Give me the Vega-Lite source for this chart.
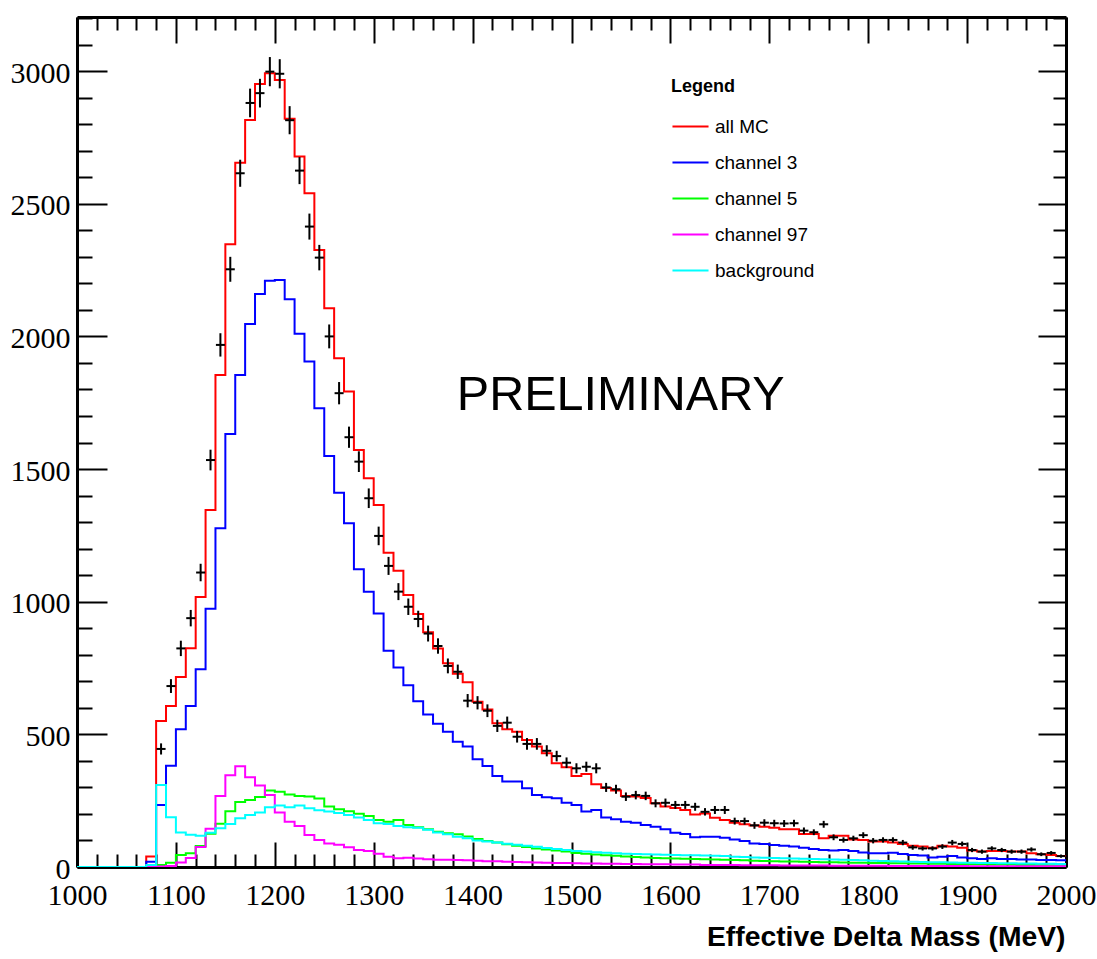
{
  "$schema": "https://vega.github.io/schema/vega-lite/v6.json",
  "width": 989,
  "height": 850,
  "autosize": {"type": "none"},
  "padding": {"left": 77, "top": 17, "right": 31, "bottom": 92},
  "background": "white",
  "config": {
    "view": {"stroke": null},
    "axis": {"grid": false, "domainColor": "black", "tickColor": "black", "labelColor": "black", "tickWidth": 2, "domainWidth": 3, "titleColor": "black"}
  },
  "datasets": {
    "mc": [
      {"m":1000,"all MC":0,"channel 3":0,"channel 5":0,"channel 97":0,"background":0},
      {"m":1010,"all MC":0,"channel 3":0,"channel 5":0,"channel 97":0,"background":0},
      {"m":1020,"all MC":0,"channel 3":0,"channel 5":0,"channel 97":0,"background":0},
      {"m":1030,"all MC":0,"channel 3":0,"channel 5":0,"channel 97":0,"background":0},
      {"m":1040,"all MC":0,"channel 3":0,"channel 5":0,"channel 97":0,"background":0},
      {"m":1050,"all MC":0,"channel 3":0,"channel 5":0,"channel 97":0,"background":0},
      {"m":1060,"all MC":0,"channel 3":0,"channel 5":0,"channel 97":0,"background":0},
      {"m":1070,"all MC":40,"channel 3":20,"channel 5":2,"channel 97":0,"background":8},
      {"m":1080,"all MC":550,"channel 3":234,"channel 5":8,"channel 97":2,"background":309},
      {"m":1090,"all MC":607,"channel 3":382,"channel 5":16,"channel 97":4,"background":188},
      {"m":1100,"all MC":716,"channel 3":519,"channel 5":45,"channel 97":17,"background":130},
      {"m":1110,"all MC":825,"channel 3":607,"channel 5":52,"channel 97":34,"background":122},
      {"m":1120,"all MC":1018,"channel 3":745,"channel 5":79,"channel 97":75,"background":118},
      {"m":1130,"all MC":1346,"channel 3":973,"channel 5":125,"channel 97":144,"background":129},
      {"m":1140,"all MC":1855,"channel 3":1277,"channel 5":163,"channel 97":268,"background":146},
      {"m":1150,"all MC":2347,"channel 3":1632,"channel 5":210,"channel 97":346,"background":162},
      {"m":1160,"all MC":2655,"channel 3":1855,"channel 5":245,"channel 97":380,"background":184},
      {"m":1170,"all MC":2816,"channel 3":2047,"channel 5":253,"channel 97":338,"background":196},
      {"m":1180,"all MC":2951,"channel 3":2160,"channel 5":264,"channel 97":307,"background":205},
      {"m":1190,"all MC":2992,"channel 3":2210,"channel 5":288,"channel 97":271,"background":225},
      {"m":1200,"all MC":2967,"channel 3":2213,"channel 5":284,"channel 97":205,"background":232},
      {"m":1210,"all MC":2820,"channel 3":2140,"channel 5":273,"channel 97":171,"background":225},
      {"m":1220,"all MC":2678,"channel 3":2010,"channel 5":268,"channel 97":155,"background":232},
      {"m":1230,"all MC":2540,"channel 3":1905,"channel 5":266,"channel 97":121,"background":221},
      {"m":1240,"all MC":2326,"channel 3":1729,"channel 5":258,"channel 97":102,"background":214},
      {"m":1250,"all MC":2106,"channel 3":1549,"channel 5":228,"channel 97":89,"background":209},
      {"m":1260,"all MC":1918,"channel 3":1411,"channel 5":218,"channel 97":84,"background":204},
      {"m":1270,"all MC":1792,"channel 3":1296,"channel 5":210,"channel 97":74,"background":196},
      {"m":1280,"all MC":1572,"channel 3":1122,"channel 5":201,"channel 97":64,"background":187},
      {"m":1290,"all MC":1465,"channel 3":1038,"channel 5":192,"channel 97":60,"background":177},
      {"m":1300,"all MC":1365,"channel 3":956,"channel 5":177,"channel 97":50,"background":165},
      {"m":1310,"all MC":1185,"channel 3":815,"channel 5":171,"channel 97":39,"background":162},
      {"m":1320,"all MC":1117,"channel 3":752,"channel 5":177,"channel 97":33,"background":155},
      {"m":1330,"all MC":1025,"channel 3":685,"channel 5":158,"channel 97":35,"background":150},
      {"m":1340,"all MC":954,"channel 3":625,"channel 5":150,"channel 97":32,"background":148},
      {"m":1350,"all MC":885,"channel 3":575,"channel 5":142,"channel 97":29,"background":140},
      {"m":1360,"all MC":824,"channel 3":540,"channel 5":133,"channel 97":27,"background":130},
      {"m":1370,"all MC":768,"channel 3":510,"channel 5":127,"channel 97":27,"background":123},
      {"m":1380,"all MC":728,"channel 3":472,"channel 5":123,"channel 97":26,"background":114},
      {"m":1390,"all MC":696,"channel 3":454,"channel 5":115,"channel 97":25,"background":108},
      {"m":1400,"all MC":623,"channel 3":406,"channel 5":106,"channel 97":24,"background":100},
      {"m":1410,"all MC":594,"channel 3":381,"channel 5":98,"channel 97":22,"background":96},
      {"m":1420,"all MC":542,"channel 3":343,"channel 5":92,"channel 97":22,"background":92},
      {"m":1430,"all MC":519,"channel 3":322,"channel 5":86,"channel 97":20,"background":88},
      {"m":1440,"all MC":510,"channel 3":322,"channel 5":80,"channel 97":19,"background":84},
      {"m":1450,"all MC":479,"channel 3":297,"channel 5":75,"channel 97":18,"background":80},
      {"m":1460,"all MC":454,"channel 3":271,"channel 5":70,"channel 97":17,"background":76},
      {"m":1470,"all MC":429,"channel 3":263,"channel 5":66,"channel 97":16,"background":72},
      {"m":1480,"all MC":391,"channel 3":259,"channel 5":62,"channel 97":15,"background":68},
      {"m":1490,"all MC":376,"channel 3":242,"channel 5":58,"channel 97":15,"background":64},
      {"m":1500,"all MC":343,"channel 3":234,"channel 5":53,"channel 97":14,"background":60},
      {"m":1510,"all MC":351,"channel 3":209,"channel 5":50,"channel 97":13,"background":58},
      {"m":1520,"all MC":312,"channel 3":215,"channel 5":47,"channel 97":13,"background":56},
      {"m":1530,"all MC":298,"channel 3":187,"channel 5":44,"channel 97":12,"background":54},
      {"m":1540,"all MC":288,"channel 3":180,"channel 5":42,"channel 97":12,"background":52},
      {"m":1550,"all MC":268,"channel 3":171,"channel 5":40,"channel 97":11,"background":50},
      {"m":1560,"all MC":266,"channel 3":167,"channel 5":38,"channel 97":11,"background":49},
      {"m":1570,"all MC":260,"channel 3":158,"channel 5":36,"channel 97":10,"background":48},
      {"m":1580,"all MC":240,"channel 3":152,"channel 5":34,"channel 97":10,"background":47},
      {"m":1590,"all MC":228,"channel 3":142,"channel 5":33,"channel 97":10,"background":46},
      {"m":1600,"all MC":222,"channel 3":129,"channel 5":32,"channel 97":9,"background":45},
      {"m":1610,"all MC":215,"channel 3":124,"channel 5":31,"channel 97":9,"background":44},
      {"m":1620,"all MC":198,"channel 3":112,"channel 5":30,"channel 97":9,"background":44},
      {"m":1630,"all MC":202,"channel 3":114,"channel 5":29,"channel 97":8,"background":43},
      {"m":1640,"all MC":186,"channel 3":114,"channel 5":28,"channel 97":8,"background":42},
      {"m":1650,"all MC":177,"channel 3":110,"channel 5":27,"channel 97":8,"background":41},
      {"m":1660,"all MC":167,"channel 3":104,"channel 5":26,"channel 97":8,"background":39},
      {"m":1670,"all MC":161,"channel 3":98,"channel 5":25,"channel 97":7,"background":38},
      {"m":1680,"all MC":156,"channel 3":89,"channel 5":24,"channel 97":7,"background":36},
      {"m":1690,"all MC":152,"channel 3":87,"channel 5":23,"channel 97":7,"background":35},
      {"m":1700,"all MC":148,"channel 3":83,"channel 5":22,"channel 97":7,"background":34},
      {"m":1710,"all MC":142,"channel 3":80,"channel 5":21,"channel 97":6,"background":33},
      {"m":1720,"all MC":142,"channel 3":77,"channel 5":21,"channel 97":6,"background":32},
      {"m":1730,"all MC":124,"channel 3":73,"channel 5":20,"channel 97":6,"background":31},
      {"m":1740,"all MC":124,"channel 3":68,"channel 5":19,"channel 97":6,"background":30},
      {"m":1750,"all MC":108,"channel 3":64,"channel 5":18,"channel 97":6,"background":29},
      {"m":1760,"all MC":118,"channel 3":62,"channel 5":18,"channel 97":5,"background":28},
      {"m":1770,"all MC":118,"channel 3":64,"channel 5":17,"channel 97":5,"background":27},
      {"m":1780,"all MC":104,"channel 3":60,"channel 5":16,"channel 97":5,"background":26},
      {"m":1790,"all MC":102,"channel 3":55,"channel 5":16,"channel 97":5,"background":25},
      {"m":1800,"all MC":96,"channel 3":52,"channel 5":15,"channel 97":5,"background":24},
      {"m":1810,"all MC":96,"channel 3":52,"channel 5":15,"channel 97":5,"background":23},
      {"m":1820,"all MC":92,"channel 3":54,"channel 5":14,"channel 97":4,"background":22},
      {"m":1830,"all MC":87,"channel 3":49,"channel 5":14,"channel 97":4,"background":21},
      {"m":1840,"all MC":80,"channel 3":45,"channel 5":13,"channel 97":4,"background":20},
      {"m":1850,"all MC":77,"channel 3":43,"channel 5":13,"channel 97":4,"background":19},
      {"m":1860,"all MC":73,"channel 3":36,"channel 5":12,"channel 97":4,"background":18},
      {"m":1870,"all MC":80,"channel 3":39,"channel 5":12,"channel 97":4,"background":18},
      {"m":1880,"all MC":77,"channel 3":41,"channel 5":11,"channel 97":4,"background":17},
      {"m":1890,"all MC":73,"channel 3":36,"channel 5":11,"channel 97":4,"background":16},
      {"m":1900,"all MC":62,"channel 3":33,"channel 5":10,"channel 97":3,"background":16},
      {"m":1910,"all MC":58,"channel 3":30,"channel 5":10,"channel 97":3,"background":15},
      {"m":1920,"all MC":60,"channel 3":33,"channel 5":9,"channel 97":3,"background":15},
      {"m":1930,"all MC":60,"channel 3":30,"channel 5":9,"channel 97":3,"background":14},
      {"m":1940,"all MC":58,"channel 3":30,"channel 5":9,"channel 97":3,"background":14},
      {"m":1950,"all MC":58,"channel 3":28,"channel 5":8,"channel 97":3,"background":13},
      {"m":1960,"all MC":52,"channel 3":28,"channel 5":8,"channel 97":3,"background":13},
      {"m":1970,"all MC":48,"channel 3":26,"channel 5":8,"channel 97":3,"background":12},
      {"m":1980,"all MC":45,"channel 3":26,"channel 5":7,"channel 97":3,"background":12},
      {"m":1990,"all MC":41,"channel 3":25,"channel 5":7,"channel 97":3,"background":11},
      {"m":2000,"all MC":41,"channel 3":25,"channel 5":7,"channel 97":3,"background":11}
    ],
    "obs": [
      {"c":1085,"n":445,"e":21},{"c":1095,"n":682,"e":26},{"c":1105,"n":824,"e":29},{"c":1115,"n":938,"e":31},
      {"c":1125,"n":1110,"e":33},{"c":1135,"n":1534,"e":39},{"c":1145,"n":1968,"e":44},{"c":1155,"n":2253,"e":47},
      {"c":1165,"n":2615,"e":51},{"c":1175,"n":2880,"e":54},{"c":1185,"n":2917,"e":54},{"c":1195,"n":2998,"e":55},
      {"c":1205,"n":2990,"e":55},{"c":1215,"n":2815,"e":53},{"c":1225,"n":2625,"e":51},{"c":1235,"n":2414,"e":49},
      {"c":1245,"n":2297,"e":48},{"c":1255,"n":2000,"e":45},{"c":1265,"n":1786,"e":42},{"c":1275,"n":1620,"e":40},
      {"c":1285,"n":1528,"e":39},{"c":1295,"n":1390,"e":37},{"c":1305,"n":1248,"e":35},{"c":1315,"n":1135,"e":34},
      {"c":1325,"n":1038,"e":32},{"c":1335,"n":981,"e":31},{"c":1345,"n":935,"e":31},{"c":1355,"n":880,"e":30},
      {"c":1365,"n":833,"e":29},{"c":1375,"n":758,"e":28},{"c":1385,"n":736,"e":27},{"c":1395,"n":627,"e":25},
      {"c":1405,"n":619,"e":25},{"c":1415,"n":589,"e":24},{"c":1425,"n":532,"e":23},{"c":1435,"n":544,"e":23},
      {"c":1445,"n":491,"e":22},{"c":1455,"n":464,"e":22},{"c":1465,"n":464,"e":22},{"c":1475,"n":438,"e":21},
      {"c":1485,"n":418,"e":20},{"c":1495,"n":393,"e":20},{"c":1505,"n":372,"e":19},{"c":1515,"n":378,"e":19},
      {"c":1525,"n":372,"e":19},{"c":1535,"n":300,"e":17},{"c":1545,"n":293,"e":17},{"c":1555,"n":265,"e":16},
      {"c":1565,"n":271,"e":16},{"c":1575,"n":268,"e":16},{"c":1585,"n":240,"e":15},{"c":1595,"n":242,"e":16},
      {"c":1605,"n":234,"e":15},{"c":1615,"n":234,"e":15},{"c":1625,"n":227,"e":15},{"c":1635,"n":208,"e":14},
      {"c":1645,"n":215,"e":15},{"c":1655,"n":215,"e":15},{"c":1665,"n":173,"e":13},{"c":1675,"n":173,"e":13},
      {"c":1685,"n":157,"e":13},{"c":1695,"n":167,"e":13},{"c":1705,"n":165,"e":13},{"c":1715,"n":164,"e":13},
      {"c":1725,"n":165,"e":13},{"c":1735,"n":137,"e":12},{"c":1745,"n":131,"e":11},{"c":1755,"n":161,"e":13},
      {"c":1765,"n":112,"e":11},{"c":1775,"n":102,"e":10},{"c":1785,"n":108,"e":10},{"c":1795,"n":120,"e":11},
      {"c":1805,"n":99,"e":10},{"c":1815,"n":102,"e":10},{"c":1825,"n":102,"e":10},{"c":1835,"n":92,"e":10},
      {"c":1845,"n":74,"e":9},{"c":1855,"n":70,"e":8},{"c":1865,"n":70,"e":8},{"c":1875,"n":77,"e":9},
      {"c":1885,"n":92,"e":10},{"c":1895,"n":87,"e":9},{"c":1905,"n":64,"e":8},{"c":1915,"n":58,"e":8},
      {"c":1925,"n":70,"e":8},{"c":1935,"n":64,"e":8},{"c":1945,"n":58,"e":8},{"c":1955,"n":58,"e":8},
      {"c":1965,"n":66,"e":8},{"c":1975,"n":48,"e":7},{"c":1985,"n":53,"e":7},{"c":1995,"n":41,"e":6}
    ],
    "note": [{"x": 1384, "y": 1723, "t": "PRELIMINARY"}]
  },
  "layer": [
    {
      "data": {"name": "mc"},
      "transform": [{"fold": ["all MC", "channel 3", "channel 5", "channel 97", "background"], "as": ["series", "count"]}],
      "mark": {"type": "line", "interpolate": "step-after", "strokeWidth": 2, "clip": true},
      "encoding": {
        "x": {
          "field": "m", "type": "quantitative",
          "scale": {"domain": [1000, 2000], "nice": false, "zero": false},
          "axis": {
            "orient": "bottom", "values": [1000,1100,1200,1300,1400,1500,1600,1700,1800,1900,2000],
            "format": "d", "tickSize": -25, "labelPadding": 38, "labelFont": "Liberation Serif", "labelFontSize": 30,
            "labelFlush": false, "labelOverlap": false,
            "title": "Effective Delta Mass (MeV)", "titleFont": "Liberation Sans", "titleFontSize": 28.3, "titleFontWeight": "bold",
            "titleAlign": "right", "titleAnchor": "end", "titleBaseline": "alphabetic", "titleX": 988, "titleY": 78
          }
        },
        "y": {
          "field": "count", "type": "quantitative",
          "scale": {"domain": [0, 3204], "nice": false},
          "axis": {
            "orient": "left", "values": [0,500,1000,1500,2000,2500,3000],
            "format": "d", "tickSize": -30, "labelPadding": 37, "labelOffset": 2, "labelFont": "Liberation Serif", "labelFontSize": 30,
            "labelFlush": false, "labelOverlap": false, "title": null
          }
        },
        "color": {
          "field": "series", "type": "nominal",
          "scale": {"domain": ["all MC", "channel 3", "channel 5", "channel 97", "background"], "range": ["#ff0000", "#0000ff", "#00ff00", "#ff00ff", "#00ffff"]},
          "legend": {
            "orient": "none", "legendX": 594, "legendY": 61, "padding": 0, "offset": 0,
            "title": "Legend", "titleFont": "Liberation Sans", "titleFontSize": 18, "titleFontWeight": "bold", "titleColor": "black", "titlePadding": 11,
            "labelFont": "Liberation Sans", "labelFontSize": 19, "labelColor": "black", "labelOffset": 5,
            "symbolType": "stroke", "symbolSize": 1300, "symbolStrokeWidth": 2, "rowPadding": 6
          }
        }
      }
    },
    {
      "data": {"name": "obs"},
      "mark": {"type": "errorbar", "ticks": false, "rule": {"color": "black", "strokeWidth": 2}},
      "encoding": {
        "x": {
          "field": "c", "type": "quantitative",
          "scale": {"domain": [1000, 2000], "nice": false, "zero": false},
          "axis": {
            "orient": "bottom",
            "values": [1020,1040,1060,1080,1120,1140,1160,1180,1220,1240,1260,1280,1320,1340,1360,1380,1420,1440,1460,1480,1520,1540,1560,1580,1620,1640,1660,1680,1720,1740,1760,1780,1820,1840,1860,1880,1920,1940,1960,1980],
            "tickSize": -13, "labels": false, "domain": false, "title": null
          }
        },
        "y": {
          "field": "n", "type": "quantitative",
          "scale": {"domain": [0, 3204], "nice": false},
          "axis": {
            "orient": "left",
            "values": [100,200,300,400,600,700,800,900,1100,1200,1300,1400,1600,1700,1800,1900,2100,2200,2300,2400,2600,2700,2800,2900,3100,3200],
            "tickSize": -15, "labels": false, "domain": false, "title": null
          }
        },
        "yError": {"field": "e"}
      }
    },
    {
      "data": {"name": "obs"},
      "mark": {"type": "tick", "orient": "horizontal", "size": 9, "thickness": 2, "color": "black", "opacity": 1},
      "encoding": {
        "x": {
          "field": "c", "type": "quantitative",
          "scale": {"domain": [1000, 2000], "nice": false, "zero": false},
          "axis": {
            "orient": "top", "values": [1000,1100,1200,1300,1400,1500,1600,1700,1800,1900,2000],
            "tickSize": -26, "labels": false, "title": null
          }
        },
        "y": {
          "field": "n", "type": "quantitative",
          "scale": {"domain": [0, 3204], "nice": false},
          "axis": {
            "orient": "right", "values": [0,500,1000,1500,2000,2500,3000],
            "tickSize": -28, "labels": false, "title": null
          }
        }
      }
    },
    {
      "data": {"name": "note"},
      "mark": {"type": "text", "align": "left", "baseline": "alphabetic", "font": "Liberation Sans", "fontSize": 48.5, "color": "black"},
      "encoding": {
        "x": {
          "field": "x", "type": "quantitative",
          "scale": {"domain": [1000, 2000], "nice": false, "zero": false},
          "axis": {
            "orient": "top",
            "values": [1020,1040,1060,1080,1120,1140,1160,1180,1220,1240,1260,1280,1320,1340,1360,1380,1420,1440,1460,1480,1520,1540,1560,1580,1620,1640,1660,1680,1720,1740,1760,1780,1820,1840,1860,1880,1920,1940,1960,1980],
            "tickSize": -13, "labels": false, "domain": false, "title": null
          }
        },
        "y": {
          "field": "y", "type": "quantitative",
          "scale": {"domain": [0, 3204], "nice": false},
          "axis": {
            "orient": "right",
            "values": [100,200,300,400,600,700,800,900,1100,1200,1300,1400,1600,1700,1800,1900,2100,2200,2300,2400,2600,2700,2800,2900,3100,3200],
            "tickSize": -13, "labels": false, "domain": false, "title": null
          }
        },
        "text": {"field": "t"}
      }
    }
  ],
  "resolve": {"axis": {"x": "independent", "y": "independent"}}
}
